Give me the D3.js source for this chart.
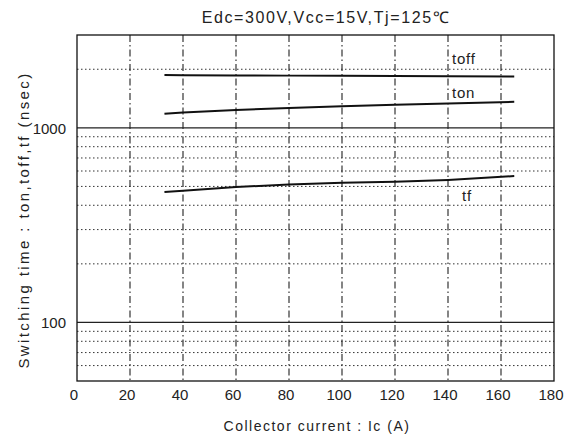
<!DOCTYPE html>
<html lang="en">
<head>
    <title>Switching time vs collector current</title>
    <script src="https://d3js.org/d3.v7.min.js"></script>
    <style>
        body { margin: 0; background: #fff; }
        text { font-family: "Liberation Sans", Arial, sans-serif; fill: #222; }
        .minor { stroke: #333; stroke-width: 1; stroke-dasharray: 1.5,2.5; }
        .major { stroke: #222; stroke-width: 1.3; }
        .vgrid { stroke: #222; stroke-width: 1.1; stroke-dasharray: 7,3,1.5,3; }
        .curve { fill: none; stroke: #111; stroke-width: 2; }
    </style>
</head>
<body>

<script>
    // values
    const currents = [33, 40, 60, 80, 100, 120, 140, 165];
    const toff = [1870, 1865, 1860, 1855, 1850, 1845, 1840, 1835];
    const ton  = [1180, 1200, 1235, 1265, 1290, 1315, 1335, 1360];
    const tf   = [468, 475, 496, 512, 522, 528, 540, 565];

    const xTicks = d3.range(0, 181, 20);
    const yTicks = [100, 1000];
    const yMinor = [60, 70, 80, 90, 200, 300, 400, 500, 600, 700, 800, 900, 2000];

    const title = "Edc=300V,Vcc=15V,Tj=125\u2103";

    const width = 580, height = 441;
    const mLeft = 77, mRight = 554, mTop = 35, mBottom = 381;

    const x = d3.scaleLinear().domain([0, 180]).range([mLeft, mRight]);
    const y = d3.scaleLog().domain([50, 3000]).range([mBottom, mTop]);

    const svg = d3.select("body").append("svg")
            .attr("width", width).attr("height", height);

    // horizontal grid
    svg.append("g").selectAll("line")
            .data(yMinor).join("line")
            .attr("class", "minor")
            .attr("x1", mLeft).attr("x2", mRight)
            .attr("y1", d => y(d)).attr("y2", d => y(d));

    svg.append("g").selectAll("line")
            .data(yTicks).join("line")
            .attr("class", "major")
            .attr("x1", mLeft).attr("x2", mRight)
            .attr("y1", d => y(d)).attr("y2", d => y(d));

    // vertical grid
    svg.append("g").selectAll("line")
            .data(xTicks.slice(1, -1)).join("line")
            .attr("class", "vgrid")
            .attr("x1", d => x(d)).attr("x2", d => x(d))
            .attr("y1", mTop).attr("y2", mBottom);

    // frame
    svg.append("rect")
            .attr("x", mLeft).attr("y", mTop)
            .attr("width", mRight - mLeft).attr("height", mBottom - mTop)
            .attr("fill", "none").attr("stroke", "#111").attr("stroke-width", 1.3);

    // tick labels
    svg.append("g").selectAll("text")
            .data(xTicks).join("text")
            .attr("x", d => x(d) - 3)
            .attr("y", 400)
            .attr("text-anchor", "middle")
            .style("font-size", "15px")
            .text(d => d);

    svg.append("g").selectAll("text")
            .data(yTicks).join("text")
            .attr("x", 66)
            .attr("y", d => y(d) + 6)
            .attr("text-anchor", "end")
            .style("font-size", "15px")
            .text(d => d);

    // curves
    const series = [
        {name: "toff", values: toff, lx: 452, ly: 64},
        {name: "ton", values: ton, lx: 452, ly: 98},
        {name: "tf", values: tf, lx: 462, ly: 201}
    ];

    const line = d3.line()
            .x((d, i) => x(currents[i]))
            .y(d => y(d));

    svg.append("g").selectAll("path")
            .data(series).join("path")
            .attr("class", "curve")
            .attr("d", d => line(d.values));

    svg.append("g").selectAll("text")
            .data(series).join("text")
            .attr("x", d => d.lx).attr("y", d => d.ly)
            .style("font-size", "15px")
            .style("letter-spacing", "0.8px")
            .text(d => d.name);

    // titles
    svg.append("text")
            .attr("x", 326).attr("y", 23)
            .attr("text-anchor", "middle")
            .style("font-size", "16px")
            .style("letter-spacing", "1.6px")
            .text(title);

    svg.append("text")
            .attr("x", 317).attr("y", 431)
            .attr("text-anchor", "middle")
            .style("font-size", "14px")
            .style("letter-spacing", "1.5px")
            .text("Collector current : Ic (A)");

    svg.append("text")
            .attr("transform", "translate(29," + 220 + ") rotate(-90)")
            .attr("text-anchor", "middle")
            .style("font-size", "15px")
            .style("letter-spacing", "2.4px")
            .text("Switching time : ton,toff,tf (nsec)");
</script>

</body>
</html>
